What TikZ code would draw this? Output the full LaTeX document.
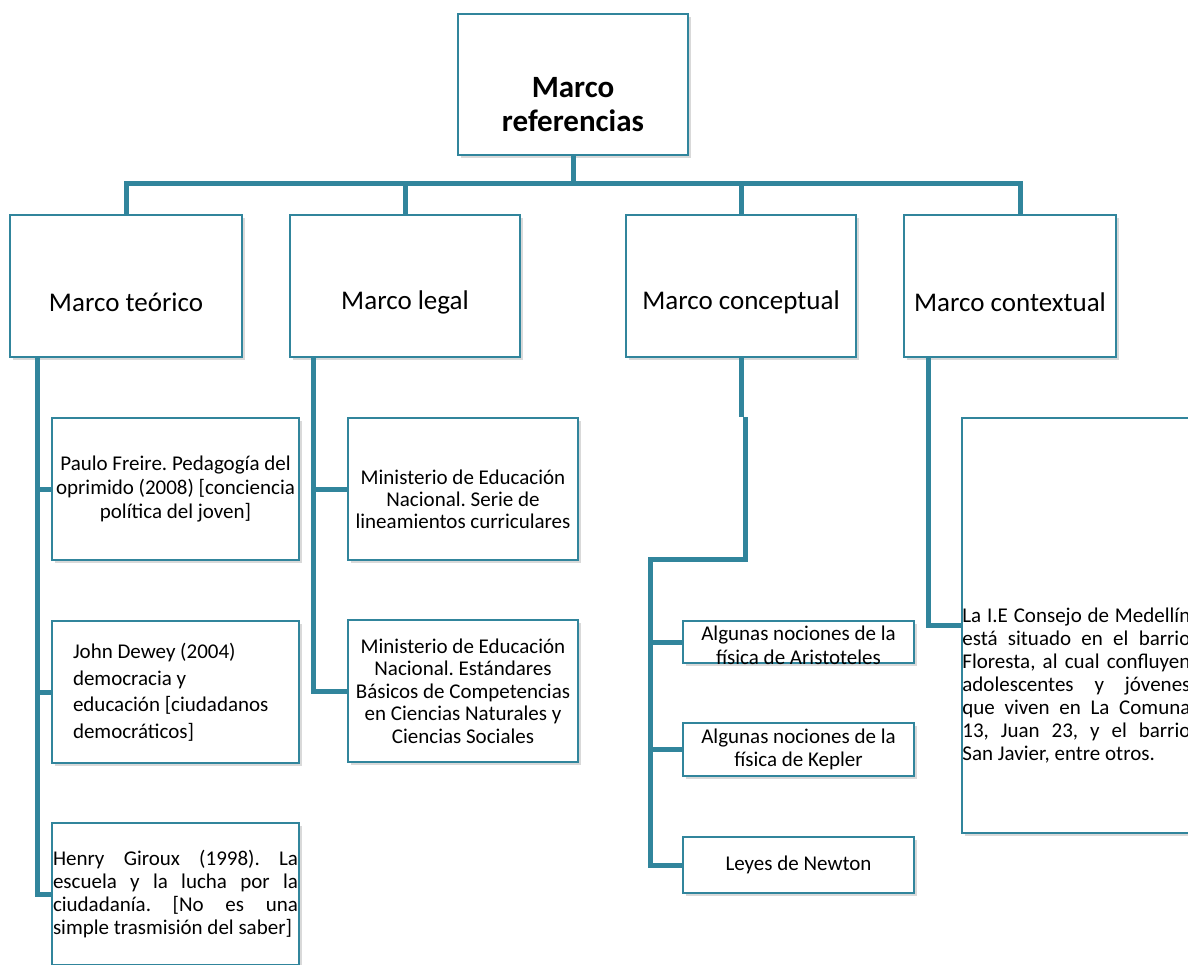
\documentclass[tikz,border=0pt]{standalone}
\usepackage{fontspec}
\setmainfont{Carlito}
\usetikzlibrary{shadows}
\frenchspacing

\definecolor{marcoline}{HTML}{31859C}

\begin{document}
\begin{tikzpicture}[x=1pt,y=-1pt,
    box/.style={draw=marcoline, line width=1.6pt, fill=white, inner sep=1pt,
      drop shadow={shadow xshift=2.5pt, shadow yshift=-3pt, opacity=0.3}},
    topbox/.style={box, minimum width=230pt, minimum height=141pt},
    mainbox/.style={box, minimum height=142pt},
    leaf/.style={box, font=\fontsize{21}{23}\selectfont},
    mid/.style={font=\fontsize{27}{32}\selectfont},
    link/.style={draw=marcoline, line width=5pt}]
  \clip[use as bounding box] (0,0) rectangle (1188,964);

  % top
  \node[topbox, label={[yshift=-20pt, align=center, font=\fontsize{31}{34}\selectfont\bfseries]center:Marco\\referencias}] (root) at (573,84.5) {};

  % second row
  \node[mainbox, minimum width=232pt, label={[mid, yshift=-16pt]center:Marco teórico}] (teorico) at (126,286) {};
  \node[mainbox, minimum width=230pt, label={[mid, yshift=-16pt]center:Marco legal}] (legal) at (405,286) {};
  \node[mainbox, minimum width=230pt, label={[mid, yshift=-16pt]center:Marco conceptual}] (conceptual) at (741,286) {};
  \node[mainbox, minimum width=212pt, label={[mid, yshift=-16pt]center:Marco contextual}] (contextual) at (1010,286) {};

  % marco teorico
  \node[leaf, minimum width=247pt, minimum height=142pt, text width=245pt, align=flush center, font=\fontsize{21}{24}\selectfont] (freire) at (175.5,489)
    {Paulo Freire. Pedagogía del\\oprimido (2008) [conciencia\\política del joven]};
  \node[leaf, minimum width=247pt, minimum height=142pt, text width=205pt, align=flush left, font=\fontsize{21}{26.5}\selectfont] (dewey) at (175.5,692)
    {John Dewey (2004)\\democracia y\\educación [ciudadanos\\democráticos]};
  \node[leaf, minimum width=247pt, minimum height=142pt, text width=245pt, align=justify] (giroux) at (175.5,894)
    {Henry Giroux (1998). La\linebreak escuela y la lucha por la\linebreak ciudadanía. [No es una\linebreak simple trasmisión del saber]};

  % marco legal
  \node[leaf, minimum width=230pt, minimum height=142pt, label={[yshift=-10pt, align=center, font=\fontsize{21}{22}\selectfont]center:Ministerio de Educación\\Nacional. Serie de\\lineamientos curriculares}] (men1) at (463,489) {};
  \node[leaf, minimum width=230pt, minimum height=142pt, text width=226pt, align=flush center, font=\fontsize{21}{22.5}\selectfont] (men2) at (463,691)
    {Ministerio de Educación\\Nacional. Estándares\\Básicos de Competencias\\en Ciencias Naturales y\\Ciencias Sociales};

  % marco conceptual
  \node[leaf, minimum width=231pt, minimum height=42pt, label={[yshift=-3pt, align=center, font=\fontsize{21}{24}\selectfont]center:Algunas nociones de la\\física de Aristoteles}] (arist) at (798.5,642) {};
  \node[leaf, minimum width=231pt, minimum height=53pt, text width=227pt, align=flush center] (kepler) at (798.5,749.5)
    {Algunas nociones de la\\física de Kepler};
  \node[leaf, minimum width=231pt, minimum height=56pt] (newton) at (798.5,865) {Leyes de Newton};

  % marco contextual
  \node[leaf, minimum width=238pt, minimum height=415pt,
    label={[anchor=west, inner sep=1pt, yshift=-60pt, text width=228pt, align=justify, font=\fontsize{21}{23}\selectfont]west:La I.E Consejo de Medellín\linebreak está situado en el barrio\linebreak Floresta, al cual confluyen\linebreak adolescentes y jóvenes\linebreak que viven en La Comuna\linebreak 13, Juan 23, y el barrio\linebreak San Javier, entre otros.}] (consejo) at (1081,625.5) {};

  % connectors
  \coordinate (bus) at (573,183);
  \coordinate (ctxtop) at ([xshift=10pt]contextual.north);
  \draw[link] (root.south) -- (bus);
  \draw[link] (teorico.north) |- (ctxtop |- bus) -- (ctxtop);
  \draw[link] (legal.north) -- (legal.north |- bus);
  \draw[link] (conceptual.north) -- (conceptual.north |- bus);

  \coordinate (tspine) at (37,357);
  \draw[link] (tspine) |- (giroux.west);
  \draw[link] (tspine |- freire.west) -- (freire.west);
  \draw[link] (tspine |- dewey.west) -- (dewey.west);

  \coordinate (lspine) at (313,357);
  \draw[link] (lspine) |- (men2.west);
  \draw[link] (lspine |- men1.west) -- (men1.west);

  \coordinate (cjog) at (745,417);
  \coordinate (cspine) at (650,559);
  \draw[link] (conceptual.south) -- (conceptual.south |- cjog);
  \draw[link] (cjog) |- (cspine) |- (newton.west);
  \draw[link] (cspine |- arist.west) -- (arist.west);
  \draw[link] (cspine |- kepler.west) -- (kepler.west);

  \coordinate (xspine) at (928,357);
  \draw[link] (xspine) |- (consejo.west);
\end{tikzpicture}
\end{document}
